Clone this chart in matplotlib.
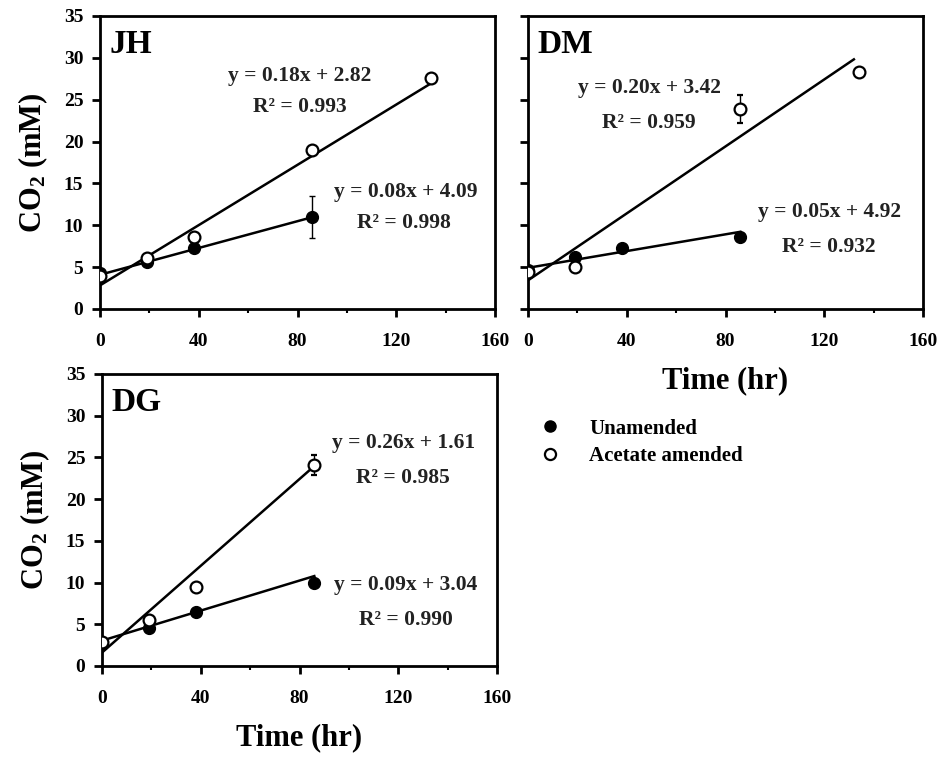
import numpy as np
import matplotlib.pyplot as plt
from matplotlib.ticker import MultipleLocator

plt.rcParams['font.family'] = 'Liberation Serif'
plt.rcParams['font.weight'] = 'bold'
plt.rcParams['mathtext.fontset'] = 'custom'
plt.rcParams['mathtext.rm'] = 'Liberation Serif:bold'
plt.rcParams['mathtext.bf'] = 'Liberation Serif:bold'
plt.rcParams['mathtext.it'] = 'Liberation Serif:bold'

# --- DATA ---
time_un = [0, 19, 38, 86]
time_ac = [0, 19, 38, 86, 134]
time_ac_dg = [0, 19, 38, 86]

jh_un = [4.3, 5.6, 7.3, 11.0]
jh_un_err = [0.3, 0.3, 0.3, 2.5]
jh_ac = [3.9, 6.1, 8.6, 19.0, 27.6]
jh_ac_err = [0.2, 0.2, 0.3, 0.3, 0.3]

dm_un = [4.6, 6.2, 7.3, 8.6]
dm_un_err = [0.2, 0.2, 0.2, 0.2]
dm_ac = [4.4, 5.0, None, 23.9, 28.3]
dm_ac_err = [0.2, 0.4, 0.0, 1.7, 0.3]

dg_un = [2.6, 4.6, 6.5, 10.0]
dg_un_err = [0.2, 0.2, 0.2, 0.2]
dg_ac = [2.9, 5.5, 9.5, 24.1]
dg_ac_err = [0.2, 0.2, 0.3, 1.2]

# fits: (slope, intercept, x end, equation, r2)
jh_fit_un = (0.08, 4.09, 86, 'y = 0.08x + 4.09', 'R² = 0.998')
jh_fit_ac = (0.18, 2.82, 134, 'y = 0.18x + 2.82', 'R² = 0.993')
dm_fit_un = (0.05, 4.92, 86, 'y = 0.05x + 4.92', 'R² = 0.932')
dm_fit_ac = (0.20, 3.42, 132, 'y = 0.20x + 3.42', 'R² = 0.959')
dg_fit_un = (0.09, 3.04, 86, 'y = 0.09x + 3.04', 'R² = 0.990')
dg_fit_ac = (0.26, 1.61, 86, 'y = 0.26x + 1.61', 'R² = 0.985')

# equation label anchors (data coords): eq line, R² line
jh_lbl = [((124, 14.0), (123, 10.3)), ((81, 27.8), (81, 24.1))]
dm_lbl = [((122, 11.6), (122, 7.4)), ((49, 26.4), (49, 22.2))]
dg_lbl = [((123, 9.7), (123, 5.5)), ((122, 26.7), (122, 22.5))]

W, H = 943, 757
fig = plt.figure(figsize=(W / 100, H / 100), dpi=100)


def make_ax(x0, y0, x1, y1):
    return fig.add_axes([x0 / W, 1 - y1 / H, (x1 - x0) / W, (y1 - y0) / H])


def style(ax, ylabels=True):
    ax.set_xlim(0, 160)
    ax.set_ylim(0, 35)
    ax.xaxis.set_major_locator(MultipleLocator(40))
    ax.xaxis.set_minor_locator(MultipleLocator(20))
    ax.yaxis.set_major_locator(MultipleLocator(5))
    for s in ax.spines.values():
        s.set_linewidth(2)
    ax.tick_params(which='major', direction='out', length=6, width=2,
                   labelsize=14, pad=6)
    ax.tick_params(axis='x', which='major', pad=11)
    ax.tick_params(which='minor', direction='out', length=3, width=1.5)
    if not ylabels:
        ax.set_yticklabels([])
    for t in ax.get_xticklabels() + ax.get_yticklabels():
        t.set_fontweight('bold')


def draw(ax, name, tu, un, un_err, ta, ac, ac_err, fit_un, fit_ac, lbls):
    for fit in (fit_un, fit_ac):
        xx = np.array([0, fit[2]])
        ax.plot(xx, fit[0] * xx + fit[1], color='black', lw=1.8, zorder=2)
    ax.errorbar(tu, un, yerr=un_err, fmt='o', color='black', ms=8.5,
                elinewidth=1, capsize=2, zorder=3)
    pts = [(t, v, e) for t, v, e in zip(ta, ac, ac_err) if v is not None]
    ax.errorbar([p[0] for p in pts], [p[1] for p in pts],
                yerr=[p[2] for p in pts], fmt='o', color='black',
                mfc='white', mec='black', mew=1.6, ms=8.5,
                elinewidth=1, capsize=2, zorder=4)
    for fit, (p_eq, p_r2) in zip((fit_un, fit_ac), lbls):
        ax.text(p_eq[0], p_eq[1], fit[3], ha='center', va='center',
                fontsize=15.5, fontweight='bold', color='#222222')
        ax.text(p_r2[0], p_r2[1], fit[4], ha='center', va='center',
                fontsize=15.5, fontweight='bold', color='#222222')
    ax.text(4, 31.6, name, ha='left', va='center', fontsize=24,
            fontweight='bold')


ax1 = make_ax(100, 16, 495, 309)
style(ax1)
draw(ax1, 'JH', time_un, jh_un, jh_un_err, time_ac, jh_ac, jh_ac_err,
     jh_fit_un, jh_fit_ac, jh_lbl)
ax1.set_ylabel(r'CO$_{2}$ (mM)', fontsize=22, fontweight='bold', labelpad=10)

ax2 = make_ax(528, 16, 923, 309)
style(ax2, ylabels=False)
draw(ax2, 'DM', time_un, dm_un, dm_un_err, time_ac, dm_ac, dm_ac_err,
     dm_fit_un, dm_fit_ac, dm_lbl)
ax2.set_xlabel('Time (hr)', fontsize=22, fontweight='bold', labelpad=12)

ax3 = make_ax(102, 374, 497, 666)
style(ax3)
draw(ax3, 'DG', time_un, dg_un, dg_un_err, time_ac_dg, dg_ac, dg_ac_err,
     dg_fit_un, dg_fit_ac, dg_lbl)
ax3.set_ylabel(r'CO$_{2}$ (mM)', fontsize=22, fontweight='bold', labelpad=10)
ax3.set_xlabel('Time (hr)', fontsize=22, fontweight='bold', labelpad=12)

# legend
fig.legend(handles=[
    plt.Line2D([], [], marker='o', ls='none', color='black', ms=8),
    plt.Line2D([], [], marker='o', ls='none', mfc='white', mec='black',
               mew=1.6, ms=8)],
    labels=['Unamended', 'Acetate amended'],
    loc='upper left', bbox_to_anchor=(510 / W, 1 - 400 / H),
    frameon=False, prop={'size': 15, 'weight': 'bold'},
    handletextpad=0.9, labelspacing=0.35)

fig.savefig('out.png', dpi=100)
